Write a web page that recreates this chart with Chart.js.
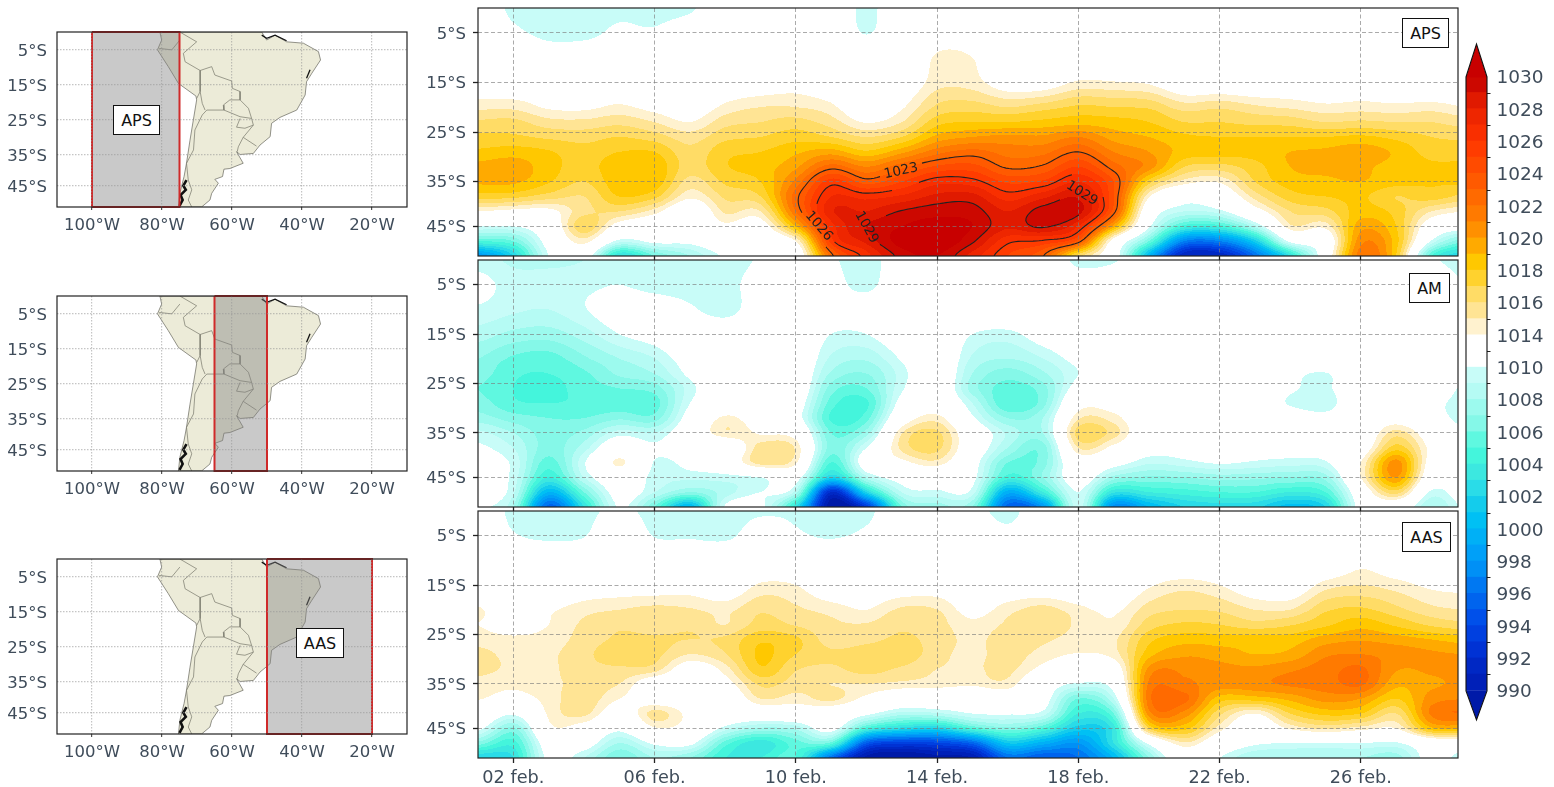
<!DOCTYPE html>
<html lang="en">
<head>
    <meta charset="UTF-8">
    <title>Presion APS AM AAS</title>
    <script src="https://cdn.jsdelivr.net/npm/chart.js"></script>
    <style>
        html, body { margin: 0; background: #fff; overflow: hidden; }
        #page { position: relative; width: 1554px; height: 787px; }
        canvas { position: absolute; }
        .tag { position: absolute; box-sizing: border-box; background: #fff; border: 1.5px solid #111; color: #111;
               font: 16px "DejaVu Sans"; display: flex; align-items: center; justify-content: center; }
    </style>
</head>
<body>
    <div id="page">
        <canvas id="map1"></canvas>
        <canvas id="map2"></canvas>
        <canvas id="map3"></canvas>
        <canvas id="aps"></canvas>
        <canvas id="am"></canvas>
        <canvas id="aas"></canvas>
        <canvas id="bar"></canvas>
        <div class="tag" style="left:113px;top:105px;width:47px;height:30px">APS</div>
        <div class="tag" style="left:296px;top:628px;width:48px;height:30px">AAS</div>
        <div class="tag" style="left:1402px;top:18px;width:47px;height:30px">APS</div>
        <div class="tag" style="left:1409px;top:273px;width:41px;height:30px">AM</div>
        <div class="tag" style="left:1402px;top:522px;width:49px;height:30px">AAS</div>
    </div>

    <script>
        // days of february, one profile per day
        const days = [1,2,3,4,5,6,7,8,9,10,11,12,13,14,15,16,17,18,19,20,21,22,23,24,25,26,27,28,29];
        const latRows = [0,-5,-10,-15,-20,-23,-26,-29,-32,-35,-38,-41,-44,-47,-50];

        const dayTicks = [2,6,10,14,18,22,26];
        const dayLabels = ['02 feb.','06 feb.','10 feb.','14 feb.','18 feb.','22 feb.','26 feb.'];
        const latTicks = [-5,-15,-25,-35,-44];
        const latLabels = ['5°S','15°S','25°S','35°S','45°S'];
        const lonTicks = [-100,-80,-60,-40,-20];
        const lonLabels = ['100°W','80°W','60°W','40°W','20°W'];

        // sea level pressure (hPa), rows follow latRows
        const apsPressure = [
            [1012,1012,1012,1012.5,1014.7,1016.2,1017.3,1018.2,1019.3,1019.2,1017.5,1014,1010,1005,998],
            [1009.5,1010.5,1012,1012.5,1014.7,1016.3,1017.2,1018.5,1019.6,1019.2,1017.3,1013.5,1010,1006,1002],
            [1009.3,1009.5,1011.3,1012.5,1013.8,1015.4,1016.8,1018.1,1018.4,1018.1,1016.5,1013.5,1012,1011,1010],
            [1009.3,1009.5,1011.5,1012.8,1013.7,1015.3,1016.6,1017.4,1017.6,1017,1016,1015.7,1016.8,1014.5,1011.5],
            [1009.6,1010.4,1011.5,1012.5,1014.2,1015.7,1017,1018,1018.7,1018.7,1018,1016,1013,1009.5,1003],
            [1009.4,1010.3,1012,1012.5,1013.5,1015,1016.5,1018,1018.8,1018.7,1017.3,1014.5,1012,1010.5,1006],
            [1009.7,1011.5,1012,1012,1012.8,1014,1015.5,1016.3,1016.5,1015.6,1014.3,1012,1012,1010.5,1008],
            [1012,1012,1012,1012.5,1014.3,1015.6,1016.7,1017.7,1017.9,1017.2,1016.2,1015.2,1013.6,1012,1010.3],
            [1012,1012,1012,1012.8,1015,1016,1017,1018,1018.5,1018,1017,1015,1013,1012,1012],
            [1011.5,1012,1012,1013.2,1015,1016.4,1017.6,1018.8,1019.8,1021.3,1022.6,1022,1019,1014,1012],
            [1012,1012,1012,1012.5,1014.3,1015.5,1017,1019.5,1022.5,1025.5,1027,1027.8,1026.5,1025.5,1022.5],
            [1009.5,1009.9,1012,1012,1012.3,1013.9,1016,1018.2,1021,1023.5,1026.6,1028,1029,1028.3,1026.5],
            [1012,1012,1012,1012.5,1013.8,1015,1017,1019.7,1022.7,1025,1027.2,1029.1,1030,1030.5,1029.4],
            [1012,1013,1014.2,1014.6,1016.2,1017.6,1019.3,1021.6,1024.2,1026.6,1028.3,1029.6,1030.5,1031,1030],
            [1012,1012.8,1014,1014.5,1016.5,1018,1020,1022.4,1024.4,1026.4,1028.4,1029.5,1030,1029.2,1027.6],
            [1012,1012,1012,1013,1016,1018,1020.3,1021.6,1022.8,1024.8,1026.5,1028,1028.2,1026.3,1025],
            [1012,1012,1012,1013,1016.5,1018.3,1020.2,1021.7,1023.2,1025.2,1027.7,1029.5,1029.2,1025.8,1023],
            [1012,1012,1012,1014.2,1017.2,1018.6,1021,1023,1025,1027,1028.8,1029.4,1027,1023.6,1016.5],
            [1012,1012,1012,1014.1,1017,1018.4,1019.6,1021,1022.5,1024,1024,1023.5,1019.5,1013,1011.5],
            [1012,1012,1012,1013.8,1016.8,1018,1019,1020,1020.5,1017.5,1014.2,1012,1010.3,1006,1000],
            [1012,1012,1012,1012.5,1015.5,1017,1018.2,1018.6,1017,1014.6,1011,1009,1004.5,997,991],
            [1012,1012,1012,1012.5,1015.8,1017,1018,1018.4,1016.6,1014.2,1012,1009.6,1004.5,997,991],
            [1012,1012,1012,1012.3,1015.2,1016.7,1018,1018.4,1017.6,1017,1015.4,1013,1008.5,1001.5,996],
            [1012,1012,1012,1012.4,1014.8,1016.6,1018,1019,1019,1018.5,1017.5,1016,1014.7,1010.5,1003],
            [1012,1012,1012,1012.3,1014.3,1016,1018,1019.2,1019.2,1018.8,1018,1016.6,1014.4,1012,1012],
            [1012,1012,1012,1012.5,1014.5,1016.2,1018.2,1019.6,1019.2,1019,1018.2,1018.5,1019.6,1020.7,1021.6],
            [1012,1012,1012,1012.3,1014.3,1016,1017.7,1018.8,1018.6,1018.4,1017,1017.6,1018,1018.4,1018],
            [1012,1012,1012,1012,1014.5,1016,1017,1017.6,1018.2,1018.1,1017.5,1015,1012.5,1009.8,1005],
            [1012,1012,1012,1012,1014,1015.5,1016.8,1017.6,1018.2,1018.2,1016.6,1014,1011,1006,1002]
        ];
        const amPressure = [
            [1009.5,1010.5,1009.8,1008.5,1007,1006.5,1006,1006.5,1007.5,1009.3,1010.3,1011,1011,1011,1010.2],
            [1008.8,1009.5,1009.2,1007.7,1005.8,1005.2,1005,1005.2,1006.5,1008,1009,1009.7,1009.6,1009.2,1008],
            [1008.7,1009.6,1009,1007.5,1005.5,1005,1004.6,1005,1006,1006.5,1006.5,1005.5,1004,1000,995.5],
            [1009,1009.7,1009.9,1008.5,1006.8,1005.8,1005.5,1005.2,1006,1007.3,1008.5,1009.8,1009,1006,1003],
            [1009.5,1010,1011,1010,1008,1007.2,1006,1005.4,1006.8,1009.5,1012,1014.3,1012,1011,1010.2],
            [1009.5,1009.5,1011,1010.8,1009,1008,1006.5,1005.5,1006.5,1009,1010.3,1009.9,1009.5,1009,1006],
            [1009.4,1009.4,1010.3,1012,1011,1010.4,1009.5,1010,1011,1012,1011.5,1010.6,1009.3,1007,1000],
            [1009.3,1009.4,1009.2,1012,1012,1012,1012,1012,1014.3,1014.8,1011.5,1012,1009.5,1008.5,1010.2],
            [1010.2,1011,1011.5,1012,1012,1012,1012,1012,1012.5,1013.8,1015.5,1015.5,1010,1010,1010.5],
            [1011,1012,1012,1012,1012,1012,1012,1011.3,1011,1013,1014.8,1014.2,1011,1008.5,1003],
            [1010.2,1010.7,1011,1010,1008.8,1007.8,1006.5,1005.5,1004.8,1006,1006.5,1005,1002,992,989],
            [1009.5,1009.6,1011,1010,1008.2,1007,1006,1004.8,1005.6,1007.5,1010,1011.5,1008.5,1002,993],
            [1011,1011.5,1012,1011.5,1010.2,1009.5,1009.8,1010.8,1012.5,1014.9,1015.3,1013.5,1011,1009,1006],
            [1012,1012,1012,1012,1012,1012,1012,1012.5,1014.5,1016.2,1016.3,1014.6,1011.5,1009.7,1007.5],
            [1012,1012,1012,1010,1008.8,1008,1007.5,1009,1010.3,1012,1012,1011,1010.5,1009.5,1007],
            [1012,1012,1012,1009.6,1008,1006.5,1005.5,1005,1007,1008.8,1008,1006,1004.5,999.5,995.5],
            [1012,1012,1012,1011,1009,1007.8,1006.6,1006.6,1008,1008,1006.5,1006.5,1007,1004,998],
            [1009.5,1011.5,1012,1012,1010.7,1010,1011,1013,1014.8,1016.5,1015,1012.5,1011.5,1010,1009.5],
            [1009.8,1012,1012,1012,1012,1012,1012,1013,1014.5,1015.5,1013.5,1011,1007.6,1003.2,997.5],
            [1012,1012,1012,1012,1012,1012,1012,1012,1012,1012,1011,1009.2,1006.8,1004,1000],
            [1012,1012,1012,1012,1012,1012,1012,1012,1012,1012,1011,1009.6,1007,1004.5,1002],
            [1012,1012,1012,1012,1012,1012,1012,1012,1012,1012,1012,1010.2,1007.5,1005,1002.5],
            [1012,1012,1012,1012,1012,1012,1012,1012,1012,1012,1011,1009.8,1007.3,1005,1002.3],
            [1012,1012,1012,1012,1012,1010.6,1010.3,1009.8,1011.5,1012,1011,1009.5,1007,1004,1000.5],
            [1012,1012,1012,1012,1012,1009.9,1009.7,1009.3,1010.7,1012,1011.2,1009.8,1007.5,1005,1002],
            [1012,1012,1012,1012,1012,1012,1012,1012,1012,1012,1012.5,1014,1014,1012,1011],
            [1012,1012,1012,1012,1012,1012,1012,1012,1013,1015.5,1017.5,1020.4,1020,1016.5,1012],
            [1010.3,1012,1012,1012,1012,1012,1012,1010.7,1011,1012.5,1013.5,1013,1012,1009.7,1008],
            [1009.2,1010,1012,1012,1012,1011,1009.4,1009.2,1009.4,1010.2,1012,1012,1012,1011.5,1010.5]
        ];
        const aasPressure = [
            [1012,1012,1012,1012,1014.2,1014,1014.6,1015.3,1015.3,1014.6,1014.1,1012.5,1010.5,1006.5,1002],
            [1009.5,1010.2,1012,1012,1012.5,1013,1014.3,1014.7,1014.8,1014.3,1013.2,1010.3,1006.8,1004.5,1003],
            [1009.5,1009.6,1012,1012,1013.7,1014,1014.5,1014.8,1014.8,1014.8,1014.5,1014.2,1013.5,1011.5,1010.5],
            [1009.5,1009.9,1012,1012.8,1014.6,1015.2,1015.4,1015.7,1015.6,1015.2,1015.6,1015.3,1013,1011.2,1009],
            [1010.5,1012,1012,1013,1015,1015.8,1016.2,1016.7,1015.8,1015,1014,1012.5,1010.5,1008,1006],
            [1009.4,1009.9,1012,1013,1015.3,1015.5,1016.2,1016.3,1015.5,1012.5,1012.8,1015.4,1013.8,1010.3,1008],
            [1009.5,1009.8,1012,1013.2,1015.1,1015.8,1016,1015,1012.8,1012,1012.5,1013.5,1013,1010.5,1007],
            [1009.4,1009.6,1012,1012.5,1014.7,1015,1016.2,1015.9,1014.5,1013.3,1012,1012,1009.5,1005.5,1004],
            [1009.8,1011,1012,1014.2,1015.8,1016.4,1017.8,1018.2,1017.8,1016.2,1015,1012,1007.8,1003.4,1004],
            [1009.8,1010.3,1012,1014,1015.2,1015.9,1017.2,1017,1016.1,1015.5,1014.5,1012.5,1008.3,1005.5,1005],
            [1009.4,1009.8,1012,1012.5,1014.6,1015.2,1015.5,1016.2,1015.8,1015,1015.3,1012.3,1010.9,1005.5,996],
            [1009.5,1010.5,1012,1012.5,1014,1015.1,1015.7,1016.6,1016.4,1015,1013.5,1010.5,1004.5,995,989.5],
            [1012,1012,1012,1012.8,1015.2,1015.8,1016.2,1016.7,1015.8,1014.7,1012,1008.5,1002.5,993.5,988.5],
            [1012,1012,1012,1013,1015,1015.4,1015.6,1015.4,1015,1014.5,1012,1008.8,1002,993.8,989.5],
            [1011,1012,1012,1012.3,1013.4,1014.3,1014.7,1014.7,1014.8,1014.3,1011.5,1010,1005,995.5,990],
            [1009.3,1010.8,1012,1012.5,1014.6,1015.2,1015.6,1015.5,1015.3,1014.6,1012.5,1010.2,1006.7,1001,996],
            [1012,1012,1012,1012.5,1015.4,1015.7,1015.2,1014.6,1013.5,1011.5,1011,1009.5,1005,999.5,995],
            [1012,1012,1012,1012,1014.4,1014.8,1014.6,1013.9,1012,1009.8,1006,1004,1001.5,998,996],
            [1012,1012,1012,1012,1013.7,1014.2,1014.8,1014.5,1012.5,1011,1009,1006,1003.5,1003,1000],
            [1012,1012,1012,1013.8,1015.5,1016.5,1017.7,1018.6,1020.3,1021.2,1021.6,1020.5,1017,1010.5,1007],
            [1012,1012,1012,1014.6,1016,1017.2,1018.6,1019.8,1020.8,1021.2,1022.3,1020.6,1018.3,1014.8,1012],
            [1012,1012,1012,1014,1015.8,1017,1018.5,1019.5,1020.4,1020.6,1018.5,1016.3,1014.5,1012,1010],
            [1012,1012,1012,1012.8,1015,1016.4,1018.6,1019,1020.2,1020.7,1018.5,1014,1012,1010.3,1008],
            [1012,1012,1012,1012.6,1015,1016.9,1018.5,1019.3,1020.8,1021.2,1019.3,1017,1014.2,1010,1008],
            [1012,1012,1012,1014.5,1016.8,1017.8,1019.5,1020.8,1021.5,1021.5,1020.4,1018.3,1015.2,1010,1008],
            [1012,1012,1013.5,1015,1017.2,1018.6,1019.9,1021,1022.2,1022.2,1020,1018,1014.5,1010,1008],
            [1012,1012,1012.5,1014.5,1016.3,1017.8,1019.5,1020.6,1020.1,1019.3,1018,1016,1014,1009.8,1007.5],
            [1012,1012,1012,1013.7,1015.3,1016.8,1019,1020.2,1020.2,1019.8,1020.5,1021.2,1018.7,1012,1010.8],
            [1012,1012,1012,1013.5,1015,1016.3,1018.5,1020,1020.5,1020.3,1021,1022,1019,1012,1009]
        ];

        // colour levels (1011 and 1013 are not levels in the original)
        const levels = [990,991,992,993,994,995,996,997,998,999,1000,1001,1002,1003,1004,1005,1006,1007,1008,1009,1010,
                        1012,1014,1015,1016,1017,1018,1019,1020,1021,1022,1023,1024,1025,1026,1027,1028,1029,1030];
        const bandColors = ['#0020b8','#0028c4','#0032d4','#0040e0','#0050ea','#0064ee','#0078f2','#0090f6','#00a0f8','#00b0f6',
                            '#00c0f4','#14ccec','#2adce8','#3ce8e0','#44f5dc','#5ff8e0','#85f8e8','#9cfaee','#b5fbf4','#c8fcf8',
                            '#ffffff','#ffffff',
                            '#fff2cf','#ffe494','#ffdc66','#ffd22e','#ffc800','#ffaa00','#ff9000','#ff7a00','#ff6a00','#ff5a00',
                            '#ff4b00','#ff3c00','#f92f00','#ee2600','#e01a00','#cc0800'];
        const underColor = '#001aa8';
        const overColor = '#c80000';
        const colorbarLabels = ['990','992','994','996','998','1000','1002','1004','1006','1008','1010',
                                '1014','1016','1018','1020','1022','1024','1026','1028','1030'];

        // contour lines of the APS panel
        const contourLevels = [1023,1026,1029];
        const contourLabelText = ['1023','1026','1029','1029'];
        const contourLabelDay = [12.98,10.65,12,18.1];
        const contourLabelLat = [-32.9,-44,-44.2,-37.4];
        const contourLabelAngle = [-12,49,61,32];

        // south america, lon / lat
        const landLon = [-80.6,-51.5,-50.1,-47.7,-44.4,-39.6,-35.3,-34.7,-37.2,-38.7,-39.1,-41.5,-46.3,-48.7,-49.1,-52,-53.9,-57.7,-58.7,-56.8,-60.6,-62.3,-62.7,-64.9,-63.9,-65.8,-66.3,-68.7,-75.3,-74.9,-73.7,-73,-72,-70.1,-70.3,-75.3,-78.2,-81.3,-80.1,-80.6];
        const landLat = [0,0,-2.3,-0.9,-2.8,-3.2,-5.6,-8,-11.8,-14.2,-18,-22.3,-24.4,-26.1,-29.9,-32.3,-34.7,-35,-34.2,-37.5,-39,-39.2,-41.3,-42.1,-43.2,-46.1,-48,-50,-50,-46.1,-41.3,-37.5,-30.9,-19.4,-18.3,-14.7,-9.9,-5.1,-2.3,0];

        const borderLines = [
            [[-74.9,0],[-70.1,-2.8],[-73.9,-6.1],[-73.4,-8.5],[-69.1,-11],[-69.1,-17],[-70.1,-19]],
            [[-80.8,-4.7],[-77.2,-5.1],[-74.9,-2.3]],
            [[-69.1,-11],[-65.8,-9.9],[-64.9,-12.3],[-60.1,-14],[-59.9,-16.1],[-57.7,-17],[-57.7,-19.4],[-60.6,-19.4],[-62.5,-20.9],[-62.3,-22.3],[-67.2,-22.3],[-68.5,-23.7]],
            [[-69.1,-17],[-68.5,-20.4],[-67.7,-22.3]],
            [[-62.3,-22.3],[-57.7,-24.2],[-54.4,-24.7],[-53.9,-26.6],[-56.3,-27.5],[-58.7,-27.2],[-57.7,-24.7]],
            [[-57.7,-19.4],[-55.3,-21.8],[-54.4,-24.7]],
            [[-53.9,-26.6],[-56.8,-30.1],[-53,-32.6]],
            [[-56.8,-30.1],[-58.2,-32.8],[-58.5,-34.2]],
            [[-68.5,-23.7],[-70.6,-28],[-71,-33.7],[-73,-37.5],[-72.5,-42.3],[-71.5,-45.1],[-72.5,-48],[-71.5,-50]]
        ];
        const darkCoasts = [
            [[-75,-49.7],[-74.1,-48],[-74.7,-46.6],[-73.2,-45.1],[-73.9,-43.9],[-73,-42.3]],
            [[-51.5,-0.9],[-50.1,-1.8],[-47.7,-0.9],[-44.4,-2.5]],
            [[-38.7,-13.2],[-37.7,-10.8]]
        ];
        // region boxes: west, east
        const boxLon = [[-100,-75],[-65,-50],[-50,-20]];

        const tickColor = '#3f4c5a';
        const tickFont = { family: 'DejaVu Sans', size: 16.5 };
        const dateFont = { family: 'DejaVu Sans', size: 17.7 };

        function levelIndex(p) {
            if (p < levels[0]) return -1;
            for (let i = 1; i < levels.length; i++) {
                if (p < levels[i]) return i - 1;
            }
            return levels.length;
        }

        function hexToRgb(h) {
            return [parseInt(h.substr(1,2),16), parseInt(h.substr(3,2),16), parseInt(h.substr(5,2),16)];
        }

        function catmull(a, b, c, d, t) {
            return 0.5 * (2*b + (c-a)*t + (2*a-5*b+4*c-d)*t*t + (3*b-a-3*c+d)*t*t*t);
        }

        function sampleField(grid, day, lat) {
            let u = Math.max(0, Math.min(grid.length - 1.001, day - days[0]));
            let j = 0;
            while (j < latRows.length - 2 && lat < latRows[j+1]) j++;
            let fy = (latRows[j] - lat) / (latRows[j] - latRows[j+1]);
            fy = Math.max(0, Math.min(1, fy));
            const i = Math.floor(u), fx = u - i;
            const col = [];
            let lo = Infinity, hi = -Infinity;
            for (let a = -1; a <= 2; a++) {
                const g = grid[Math.max(0, Math.min(grid.length-1, i+a))];
                const r = [];
                for (let b = -1; b <= 2; b++) {
                    const v = g[Math.max(0, Math.min(latRows.length-1, j+b))];
                    r.push(v);
                    if (v < lo) lo = v;
                    if (v > hi) hi = v;
                }
                col.push(catmull(r[0], r[1], r[2], r[3], fy));
            }
            return Math.max(lo, Math.min(hi, catmull(col[0], col[1], col[2], col[3], fx)));
        }

        // paints the filled levels before the grid lines go on top
        const fieldPlugin = {
            id: 'fieldPlugin',
            beforeDraw(chart) {
                const grid = chart.data.datasets[0].grid;
                if (!grid) return;
                const area = chart.chartArea, sx = chart.scales.x, sy = chart.scales.y;
                const w = Math.round(area.right - area.left), h = Math.round(area.bottom - area.top);
                const off = document.createElement('canvas');
                off.width = w; off.height = h;
                const octx = off.getContext('2d');
                const img = octx.createImageData(w, h);
                const rgb = bandColors.map(hexToRgb), under = hexToRgb(underColor), over = hexToRgb(overColor);
                for (let py = 0; py < h; py++) {
                    const lat = sy.getValueForPixel(area.top + py + 0.5);
                    for (let px = 0; px < w; px++) {
                        const day = sx.getValueForPixel(area.left + px + 0.5);
                        const k = levelIndex(sampleField(grid, day, lat));
                        const c = k < 0 ? under : (k >= rgb.length ? over : rgb[k]);
                        const o = (py*w + px) * 4;
                        img.data[o] = c[0]; img.data[o+1] = c[1]; img.data[o+2] = c[2]; img.data[o+3] = 255;
                    }
                }
                octx.putImageData(img, 0, 0);
                const ctx = chart.ctx;
                ctx.save();
                ctx.beginPath();
                ctx.rect(area.left, area.top, w, h);
                ctx.clip();
                ctx.filter = 'blur(0.6px)';
                ctx.drawImage(off, area.left, area.top);
                ctx.restore();
            },
            afterDraw(chart) {
                const area = chart.chartArea, ctx = chart.ctx;
                ctx.save();
                ctx.strokeStyle = '#222';
                ctx.lineWidth = 1.2;
                ctx.strokeRect(area.left, area.top, area.right - area.left, area.bottom - area.top);
                ctx.restore();
            }
        };

        // marching squares for the black lines on the APS panel
        const contourPlugin = {
            id: 'contourPlugin',
            afterDatasetsDraw(chart) {
                const grid = chart.data.datasets[0].contours;
                if (!grid) return;
                const area = chart.chartArea, sx = chart.scales.x, sy = chart.scales.y, ctx = chart.ctx;
                const step = 3;
                const val = (x, y) => sampleField(grid, sx.getValueForPixel(x), sy.getValueForPixel(y));
                const marks = contourLabelText.map((t, i) => ({
                    t, x: sx.getPixelForValue(contourLabelDay[i]), y: sy.getPixelForValue(contourLabelLat[i]), a: contourLabelAngle[i]
                }));
                const hidden = (x, y) => marks.some(m => Math.hypot(x - m.x, y - m.y) < 21);
                ctx.save();
                ctx.beginPath();
                ctx.rect(area.left, area.top, area.right - area.left, area.bottom - area.top);
                ctx.clip();
                ctx.strokeStyle = '#222';
                ctx.lineWidth = 1.1;
                contourLevels.forEach(level => {
                    ctx.beginPath();
                    for (let y = area.top; y < area.bottom; y += step) {
                        for (let x = area.left; x < area.right; x += step) {
                            const c = [[x,y],[x+step,y],[x+step,y+step],[x,y+step]];
                            const v = c.map(p => val(p[0], p[1]));
                            const cross = [];
                            for (let e = 0; e < 4; e++) {
                                const a = v[e], b = v[(e+1)%4];
                                if ((a < level) !== (b < level)) {
                                    const t = (level - a) / (b - a);
                                    cross.push([c[e][0] + t*(c[(e+1)%4][0]-c[e][0]), c[e][1] + t*(c[(e+1)%4][1]-c[e][1])]);
                                }
                            }
                            for (let n = 0; n + 1 < cross.length; n += 2) {
                                if (hidden(cross[n][0], cross[n][1]) || hidden(cross[n+1][0], cross[n+1][1])) continue;
                                ctx.moveTo(cross[n][0], cross[n][1]);
                                ctx.lineTo(cross[n+1][0], cross[n+1][1]);
                            }
                        }
                    }
                    ctx.stroke();
                });
                ctx.fillStyle = '#222';
                ctx.font = '13.5px "DejaVu Sans"';
                ctx.textAlign = 'center';
                ctx.textBaseline = 'middle';
                marks.forEach(m => {
                    ctx.save();
                    ctx.translate(m.x, m.y);
                    ctx.rotate(m.a * Math.PI / 180);
                    ctx.fillText(m.t, 0, 0);
                    ctx.restore();
                });
                ctx.restore();
            }
        };

        // pins the plot box to page coordinates, canvas has room for labels around it
        function placeCanvas(id, box, room) {
            const c = document.getElementById(id);
            const w = box.right - box.left + room.left + room.right;
            const h = box.bottom - box.top + room.top + room.bottom;
            c.width = w; c.height = h;
            c.style.width = w + 'px'; c.style.height = h + 'px';
            c.style.left = (box.left - room.left) + 'px';
            c.style.top = (box.top - room.top) + 'px';
            return c;
        }

        function fitX(s, room) {
            s.height = room.bottom;
            s.paddingLeft = 0;
            s.paddingRight = 0;
        }

        function fitY(s, width) {
            s.width = width;
            s.paddingTop = 0;
            s.paddingBottom = 0;
        }

        function fieldChart(id, pressure, box, showDates, contours) {
            const room = { left: 55, right: 2, top: 2, bottom: 32 };
            const cells = [];
            pressure.forEach((profile, i) => profile.forEach((p, j) => cells.push({ x: days[i], y: latRows[j], p: p })));
            return new Chart(placeCanvas(id, box, room), {
                type: 'scatter',
                data: { datasets: [{ data: cells, pointRadius: 0, grid: pressure, contours: contours ? pressure : null }] },
                plugins: [fieldPlugin, contourPlugin],
                options: {
                    responsive: false,
                    animation: false,
                    layout: { padding: { top: room.top, right: room.right } },
                    plugins: { legend: { display: false }, tooltip: { enabled: false } },
                    scales: {
                        x: {
                            type: 'linear', min: 1, max: 28.75,
                            afterFit: s => fitX(s, room),
                            afterBuildTicks: s => { s.ticks = dayTicks.map(v => ({ value: v })); },
                            grid: { color: 'rgba(125,125,125,0.65)', tickColor: '#222', tickLength: 5, tickWidth: 1.3 },
                            border: { display: false, dash: [4, 2.5] },
                            ticks: { display: showDates, color: tickColor, font: dateFont, padding: 5, maxRotation: 0, autoSkip: false,
                                     callback: (v, i) => dayLabels[i] }
                        },
                        y: {
                            type: 'linear', min: -50, max: 0,
                            afterFit: s => fitY(s, room.left),
                            afterBuildTicks: s => { s.ticks = latTicks.map(v => ({ value: v })); },
                            grid: { color: 'rgba(125,125,125,0.65)', tickColor: '#222', tickLength: 5, tickWidth: 1.3 },
                            border: { display: false, dash: [4, 2.5] },
                            ticks: { color: tickColor, font: tickFont, padding: 7, labelOffset: 1.5, autoSkip: false,
                                     callback: (v, i) => latLabels[i] }
                        }
                    }
                }
            });
        }

        function lineSet(points, color, width) {
            return { data: points.map(p => ({ x: p[0], y: p[1] })), showLine: true, pointRadius: 0, borderColor: color, borderWidth: width, fill: false, tension: 0 };
        }

        function mapChart(id, box, region) {
            const room = { left: 50, right: 5, top: 2, bottom: 32 };
            const west = region[0], east = region[1];
            const sets = [];
            const regionBox = lineSet([[west,0],[east,0],[east,-50],[west,-50],[west,0]], '#cf2a2a', 2);
            regionBox.fill = 'shape';
            regionBox.backgroundColor = 'rgba(130,130,130,0.43)';
            regionBox.clip = 2;
            sets.push(regionBox);
            darkCoasts.forEach((c, i) => sets.push(lineSet(c, '#111', i === 0 ? 2.6 : 1.3)));
            borderLines.forEach(b => sets.push(lineSet(b, '#77776a', 0.7)));
            const land = lineSet(landLon.map((lon, i) => [lon, landLat[i]]), '#66665c', 0.7);
            land.fill = 'shape';
            land.backgroundColor = '#ecebd8';
            sets.push(land);
            return new Chart(placeCanvas(id, box, room), {
                type: 'scatter',
                data: { datasets: sets },
                plugins: [fieldPlugin],
                options: {
                    responsive: false,
                    animation: false,
                    layout: { padding: { top: room.top, right: room.right } },
                    plugins: { legend: { display: false }, tooltip: { enabled: false } },
                    scales: {
                        x: {
                            type: 'linear', min: -110, max: -10,
                            afterFit: s => fitX(s, room),
                            afterBuildTicks: s => { s.ticks = lonTicks.map(v => ({ value: v })); },
                            grid: { z: 1, color: 'rgba(150,150,150,0.55)', tickColor: '#555', tickLength: 3, lineWidth: 1.2 },
                            border: { display: false, dash: [1.5, 1.5] },
                            ticks: { color: tickColor, font: tickFont, padding: 6, maxRotation: 0, autoSkip: false,
                                     callback: (v, i) => lonLabels[i] }
                        },
                        y: {
                            type: 'linear', min: -50, max: 0,
                            afterFit: s => fitY(s, room.left),
                            afterBuildTicks: s => { s.ticks = latTicks.map(v => ({ value: v })); },
                            grid: { z: 1, color: 'rgba(150,150,150,0.55)', drawTicks: false, lineWidth: 1.2 },
                            border: { display: false, dash: [1.5, 1.5] },
                            ticks: { color: tickColor, font: tickFont, padding: 10, labelOffset: 2, autoSkip: false,
                                     callback: (v, i) => latLabels[i] }
                        }
                    }
                }
            });
        }

        // end triangles and outline of the colour bar
        const extendPlugin = {
            id: 'extendPlugin',
            afterDatasetsDraw(chart) {
                const area = chart.chartArea, y = chart.scales.y, ctx = chart.ctx;
                const top = y.getPixelForValue(levels.length - 1), bottom = y.getPixelForValue(0);
                const mid = (area.left + area.right) / 2;
                ctx.save();
                ctx.fillStyle = overColor;
                ctx.beginPath();
                ctx.moveTo(area.left, top + 0.5); ctx.lineTo(mid, area.top); ctx.lineTo(area.right, top + 0.5);
                ctx.fill();
                ctx.fillStyle = underColor;
                ctx.beginPath();
                ctx.moveTo(area.left, bottom - 0.5); ctx.lineTo(mid, area.bottom); ctx.lineTo(area.right, bottom - 0.5);
                ctx.fill();
                ctx.strokeStyle = '#111';
                ctx.lineWidth = 1.1;
                ctx.beginPath();
                ctx.moveTo(area.left, top); ctx.lineTo(mid, area.top); ctx.lineTo(area.right, top);
                ctx.lineTo(area.right, bottom); ctx.lineTo(mid, area.bottom); ctx.lineTo(area.left, bottom);
                ctx.closePath();
                ctx.stroke();
                ctx.restore();
            }
        };

        function colorbarChart(id, box) {
            const room = { left: 3, right: 66, top: 2, bottom: 2 };
            const sets = bandColors.map((color, i) => ({
                data: [[i, i + 1.04]], backgroundColor: color, borderWidth: 0, barPercentage: 1, categoryPercentage: 1
            }));
            const indexTicks = levels.map((l, i) => i);
            return new Chart(placeCanvas(id, box, room), {
                type: 'bar',
                data: { labels: [''], datasets: sets },
                plugins: [extendPlugin],
                options: {
                    responsive: false,
                    animation: false,
                    layout: { padding: { left: room.left, top: room.top, bottom: room.bottom } },
                    plugins: { legend: { display: false }, tooltip: { enabled: false } },
                    scales: {
                        x: { stacked: true, display: false, grid: { display: false } },
                        y: {
                            position: 'right', type: 'linear', min: -1.8, max: 40.04,
                            afterFit: s => fitY(s, room.right),
                            afterBuildTicks: s => { s.ticks = indexTicks.map(v => ({ value: v })); },
                            grid: { drawOnChartArea: false, tickLength: 3.5, tickColor: c => (c.tick.value % 2 ? '#222' : 'rgba(0,0,0,0)') },
                            border: { display: false },
                            ticks: { color: tickColor, font: { family: 'DejaVu Sans', size: 18.5 }, padding: 6, labelOffset: 1.5, autoSkip: false,
                                     callback: v => (v % 2 ? '' : colorbarLabels[v / 2]) }
                        }
                    }
                }
            });
        }

        mapChart('map1', { left: 57, right: 407, top: 32, bottom: 207 }, boxLon[0]);
        mapChart('map2', { left: 57, right: 407, top: 296, bottom: 471 }, boxLon[1]);
        mapChart('map3', { left: 57, right: 407, top: 559, bottom: 734 }, boxLon[2]);
        fieldChart('aps', apsPressure, { left: 478, right: 1458, top: 8, bottom: 256 }, false, true);
        fieldChart('am', amPressure, { left: 478, right: 1458, top: 260, bottom: 507 }, false, false);
        fieldChart('aas', aasPressure, { left: 478, right: 1458, top: 511, bottom: 758 }, true, false);
        colorbarChart('bar', { left: 1466, right: 1487, top: 44, bottom: 720 });
    </script>
</body>
</html>
